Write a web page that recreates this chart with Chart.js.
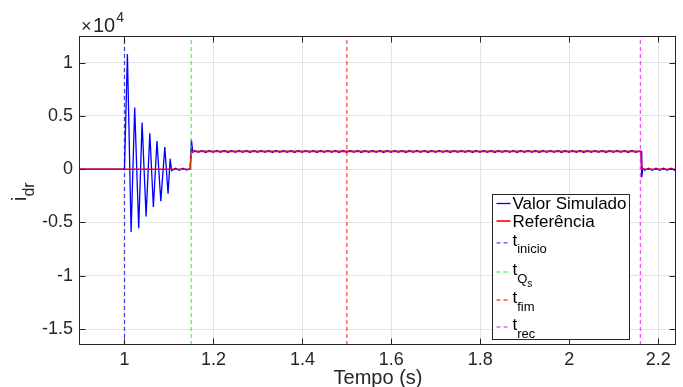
<!DOCTYPE html>
<html><head><meta charset="utf-8">
<script src="https://cdn.jsdelivr.net/npm/chart.js@4.4.1/dist/chart.umd.min.js"></script>
<style>html,body{margin:0;padding:0;background:#fff}#wrap{width:683px;height:387px}</style>
</head><body><div id="wrap"><canvas id="c" width="683" height="387"></canvas></div>
<script>
// ---------- data ----------
const xTicks = [1, 1.2, 1.4, 1.6, 1.8, 2, 2.2];
const xTickLabels = ['1', '1.2', '1.4', '1.6', '1.8', '2', '2.2'];
const yTicks = [-15000, -10000, -5000, 0, 5000, 10000];
const yTickLabels = ['-1.5', '-1', '-0.5', '0', '0.5', '1'];
const xLimits = [0.9, 2.24];
const yLimits = [-16500, 12500];
const seriesNames = ['Valor Simulado', 'Referência'];
const eventTimes = [1.0, 1.15, 1.5, 2.16];
const eventSubs = ['inicio', 'Q', 'fim', 'rec'];
const eventSubSubs = ['', 's', '', ''];

// simulated i_dr : transient
const simTransientT = [0.9, 1.0, 1.0066, 1.0149, 1.0230, 1.0320, 1.0396, 1.0486, 1.0570, 1.0650, 1.0730, 1.0817, 1.0907, 1.0980, 1.1027, 1.1060, 1.1148, 1.1231, 1.1314, 1.1397, 1.1478, 1.1505, 1.1535];
const simTransientV = [0, 0, 10820, -5900, 5780, -5530, 4370, -4430, 3360, -3550, 2640, -3000, 2070, -2300, 970, -130, 90, -100, 80, -90, 60, 2750, 1600];
// simulated i_dr : steady part sampled every half cycle (1/120 s) starting at rippleStart
const rippleStart = 1.1575;
const rippleStep = 1 / 120;
const simSteadyV = [
 1760,1580,1765,1575,1760,1580,1765,1580,1760,1575,1765,1580,1760,1580,1765,1575,1760,1580,1765,1580,
 1760,1575,1765,1580,1760,1580,1765,1575,1760,1580,1765,1580,1760,1575,1765,1580,1760,1580,1765,1575,
 1760,1580,1765,1580,1760,1575,1765,1580,1760,1580,1765,1575,1760,1580,1765,1580,1760,1575,1765,1580,
 1760,1580,1765,1575,1760,1580,1765,1580,1760,1575,1765,1580,1760,1580,1765,1575,1760,1580,1765,1580,
 1760,1575,1765,1580,1760,1580,1765,1575,1760,1580,1765,1580,1760,1575,1765,1580,1760,1580,1765,1575,
 1760,1580,1765,1580,1760,1575,1765,1580,1760,1580,1765,1575,1760,1580,1765,1580,1760,1575,1765,1580,1700
];
// simulated i_dr : after recovery
const simTailT = [2.1615, 2.1630, 2.1655, 2.1700, 2.1783, 2.1867, 2.1950, 2.2033, 2.2117, 2.2200, 2.2283, 2.2367, 2.24];
const simTailV = [1650, -760, 80, -90, 90, -95, 90, -90, 95, -90, 90, -90, 0];

// reference
const refT = [0.9, 1.1477, 1.1505, 2.1612, 2.1632, 2.24];
const refV = [0, 0, 1670, 1670, 0, 0];

// ---------- build ----------
const simPts = [];
simTransientT.forEach((t, i) => simPts.push({x: t, y: simTransientV[i]}));
simSteadyV.forEach((v, i) => simPts.push({x: rippleStart + i * rippleStep, y: v}));
simTailT.forEach((t, i) => simPts.push({x: t, y: simTailV[i]}));
const refPts = refT.map((t, i) => ({x: t, y: refV[i]}));

const simColor = '#0000ff';
const refColor = '#ff0000';
const eventColors = ['rgba(0,0,255,0.7)', 'rgba(0,255,0,0.7)', 'rgba(255,0,0,0.7)', 'rgba(255,0,255,0.7)'];
const FONT = "'Liberation Sans', Arial, Helvetica, sans-serif";
const DASH = [4, 3];

const datasets = [
  {data: simPts, borderColor: simColor, borderWidth: 1.3, pointRadius: 0, order: 10},
  {data: refPts, borderColor: refColor, borderWidth: 1.6, pointRadius: 0, order: 9}
];
eventTimes.forEach((t, i) => datasets.push({
  data: [{x: t, y: yLimits[0]}, {x: t, y: yLimits[1]}],
  borderColor: eventColors[i], borderWidth: 1.3, borderDash: DASH, pointRadius: 0, order: 4 - i
}));

const overlay = {
  id: 'overlay',
  afterDraw(chart) {
    const ctx = chart.ctx, ca = chart.chartArea, xs = chart.scales.x, ys = chart.scales.y;
    ctx.save();
    const L = Math.round(ca.left) - 0.5, R = Math.round(ca.right) - 0.5;
    const T = Math.round(ca.top) + 0.5, B = Math.round(ca.bottom) - 0.5;
    ctx.strokeStyle = '#262626'; ctx.lineWidth = 1; ctx.setLineDash([]);
    ctx.strokeRect(L, T, R - L, B - T);
    ctx.beginPath();
    xTicks.forEach(v => { const p = Math.round(xs.getPixelForValue(v)) + 0.5;
      ctx.moveTo(p, B); ctx.lineTo(p, B - 6); ctx.moveTo(p, T); ctx.lineTo(p, T + 6); });
    yTicks.forEach(v => { const p = Math.round(ys.getPixelForValue(v)) + 0.5;
      ctx.moveTo(L, p); ctx.lineTo(L + 6, p); ctx.moveTo(R, p); ctx.lineTo(R - 6, p); });
    ctx.stroke();

    // exponent label
    ctx.fillStyle = '#262626'; ctx.textBaseline = 'alphabetic'; ctx.textAlign = 'left';
    ctx.font = '18px ' + FONT;
    ctx.fillText('\u00d7', ca.left + 1, 32);
    ctx.font = '20px ' + FONT;
    ctx.fillText('10', ca.left + 13, 32);
    const w10 = ctx.measureText('10').width;
    ctx.font = '14px ' + FONT;
    ctx.fillText('4', ca.left + 13 + w10 + 1, 22);

    // y label i_dr
    ctx.save();
    ctx.translate(26, 201);
    ctx.rotate(-Math.PI / 2);
    ctx.font = '20px ' + FONT;
    ctx.fillText('i', 0, 0);
    const wi = ctx.measureText('i').width;
    ctx.font = '16px ' + FONT;
    ctx.fillText('dr', wi, 8);
    ctx.restore();

    // legend
    const lx = 492.5, ly = 194.5, lw = 137, lh = 145;
    ctx.fillStyle = '#ffffff';
    ctx.fillRect(lx, ly, lw, lh);
    ctx.strokeStyle = '#262626'; ctx.lineWidth = 1;
    ctx.strokeRect(lx, ly, lw, lh);
    const rowY = [9, 26.5, 48.3, 77.5, 105.5, 132.5];
    const sx0 = lx + 4, sx1 = lx + 18, tx = lx + 20;
    for (let i = 0; i < 6; i++) {
      const y = ly + rowY[i];
      ctx.beginPath();
      ctx.moveTo(sx0, y); ctx.lineTo(sx1, y);
      if (i < 2) { ctx.setLineDash([]); ctx.strokeStyle = i === 0 ? simColor : refColor; ctx.lineWidth = i === 0 ? 1.3 : 1.6; }
      else { ctx.setLineDash(DASH); ctx.strokeStyle = eventColors[i - 2]; ctx.lineWidth = 1.3; }
      ctx.stroke();
      ctx.setLineDash([]);
      ctx.fillStyle = '#000000';
      if (i < 2) {
        ctx.font = '17px ' + FONT;
        ctx.fillText(seriesNames[i], tx, y + 5.5);
      } else {
        ctx.font = '17px ' + FONT;
        ctx.fillText('t', tx, y + 3);
        const wt = ctx.measureText('t').width;
        ctx.font = '13px ' + FONT;
        ctx.fillText(eventSubs[i - 2], tx + wt, y + 10.5);
        const ws = ctx.measureText(eventSubs[i - 2]).width;
        if (eventSubSubs[i - 2]) {
          ctx.font = '10px ' + FONT;
          ctx.fillText(eventSubSubs[i - 2], tx + wt + ws, y + 15);
        }
      }
    }
    ctx.restore();
  }
};

new Chart(document.getElementById('c'), {
  type: 'line',
  data: {datasets},
  options: {
    responsive: false, animation: false, devicePixelRatio: 1,
    layout: {padding: {left: 0, right: 7, top: 36, bottom: 0}},
    plugins: {legend: {display: false}, tooltip: {enabled: false}},
    elements: {line: {tension: 0}},
    scales: {
      x: {
        type: 'linear', min: xLimits[0], max: xLimits[1],
        afterBuildTicks: s => { s.ticks = xTicks.map(v => ({value: v})); },
        afterFit: s => { s.height = 42; },
        ticks: {autoSkip: false, maxRotation: 0, padding: 4, color: '#262626',
          font: {family: FONT, size: 18}, callback: (v, i) => xTickLabels[i]},
        grid: {color: '#e4e4e4', lineWidth: 1, drawTicks: false},
        border: {display: false},
        title: {display: true, text: 'Tempo (s)', color: '#262626', font: {family: FONT, size: 20}, padding: {top: 0, bottom: -3}}
      },
      y: {
        type: 'linear', min: yLimits[0], max: yLimits[1],
        afterBuildTicks: s => { s.ticks = yTicks.map(v => ({value: v})); },
        afterFit: s => { s.width = 80; },
        ticks: {padding: 7, color: '#262626', font: {family: FONT, size: 18}, callback: (v, i) => yTickLabels[i]},
        grid: {color: '#e4e4e4', lineWidth: 1, drawTicks: false},
        border: {display: false}
      }
    }
  },
  plugins: [overlay]
});
</script>
</body></html>
